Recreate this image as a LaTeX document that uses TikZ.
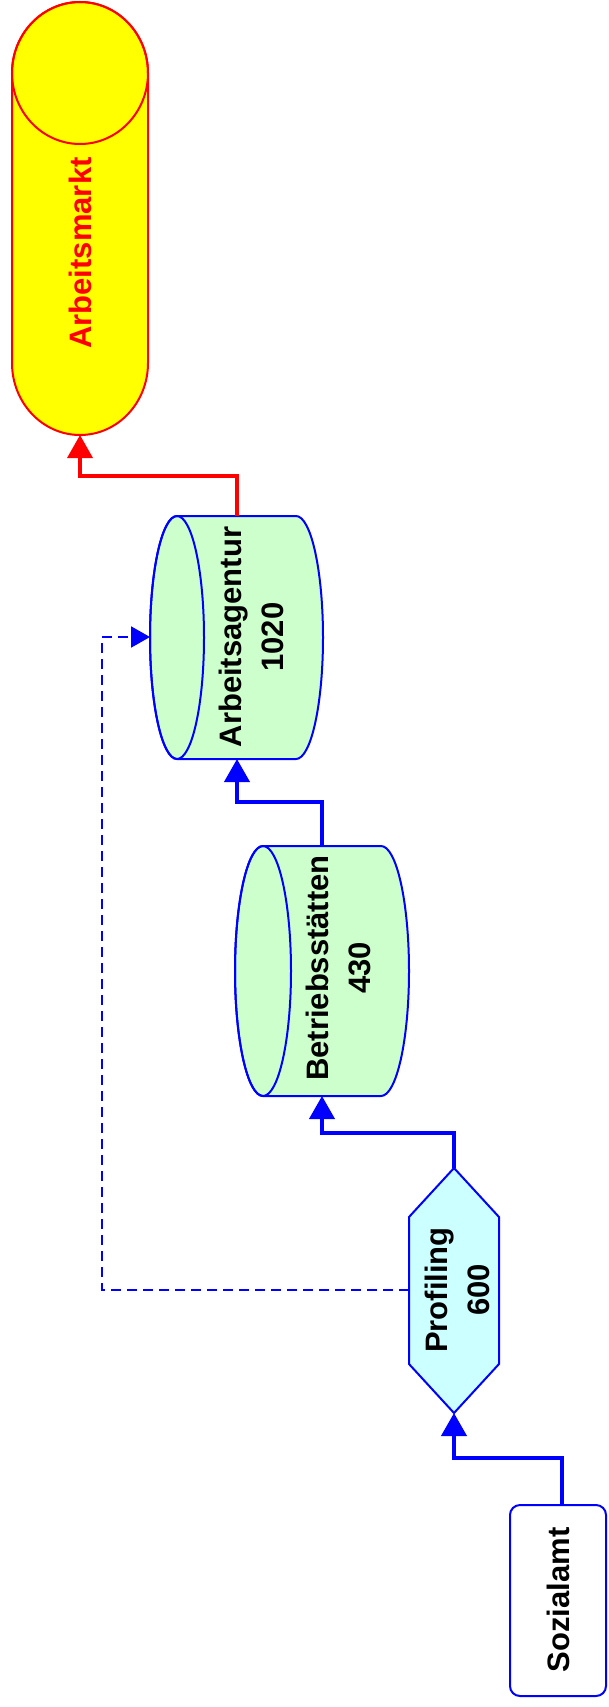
\documentclass[tikz,border=0pt]{standalone}
\usepackage{fontspec}
\setmainfont{Liberation Sans}
\usetikzlibrary{arrows.meta}
\definecolor{cgreen}{HTML}{CCFFCC}
\definecolor{ccyan}{HTML}{CCFFFF}
\definecolor{cblue}{HTML}{0000FF}
\definecolor{cred}{HTML}{FF0000}
\definecolor{cyell}{HTML}{FFFF00}
\tikzset{
  shapeline/.style={draw=cblue, line width=2pt},
  lbl/.style={rotate=90, font=\fontsize{31}{42}\selectfont\bfseries, align=center, inner sep=0pt},
  flow/.style={draw=cblue, line width=4pt, -{Triangle[length=23pt,width=25pt]}},
  redflow/.style={draw=cred, line width=3.5pt, -{Triangle[length=23pt,width=25pt]}},
  dashflow/.style={draw=cblue, line width=2pt, dash pattern=on 10pt off 6pt, -{Triangle[length=19pt,width=21pt]}}
}
\begin{document}
\begin{tikzpicture}[x=1pt,y=1pt]
\useasboundingbox (0,0) rectangle (608,-1707);
\fill[white] (0,0) rectangle (608,-1707);

% Arbeitsmarkt (vertical cylinder)
\filldraw[fill=cyell, draw=cred, line width=2pt]
  (12,-73) -- (12,-363) arc[start angle=180, end angle=360, x radius=68, y radius=72]
  -- (148,-73) arc[start angle=0, end angle=180, x radius=68, y radius=71] -- cycle;
\draw[draw=cred, line width=2pt] (80,-73) ellipse[x radius=68, y radius=71];
\node[lbl, text=cred] (amtext) at (80,-253) {Arbeitsmarkt};
\coordinate (am-bot) at (80,-435);

% Arbeitsagentur (lying cylinder)
\filldraw[fill=cgreen, shapeline]
  (177,-516) -- (296,-516) arc[start angle=90, end angle=-90, x radius=27, y radius=121.5]
  -- (177,-759) arc[start angle=270, end angle=90, x radius=27, y radius=121.5] -- cycle;
\draw[shapeline] (177,-637.5) ellipse[x radius=27, y radius=121.5];
\node[lbl] (aatext) at (251,-637) {Arbeitsagentur\\1020};
\coordinate (aa-top) at (237,-516);
\coordinate (aa-bot) at (237,-759);
\coordinate (aa-left) at (150,-637);

% Betriebsstaetten (lying cylinder)
\filldraw[fill=cgreen, shapeline]
  (263,-846) -- (381,-846) arc[start angle=90, end angle=-90, x radius=28, y radius=125]
  -- (263,-1096) arc[start angle=270, end angle=90, x radius=28, y radius=125] -- cycle;
\draw[shapeline] (263,-971) ellipse[x radius=28, y radius=125];
\node[lbl] (bstext) at (338,-968) {Betriebsstätten\\430};
\coordinate (bs-top) at (322,-846);
\coordinate (bs-bot) at (322,-1096);

% Profiling (hexagon)
\filldraw[fill=ccyan, shapeline]
  (454,-1168) -- (499,-1217) -- (499,-1364) -- (454,-1413) -- (409,-1364) -- (409,-1217) -- cycle;
\node[lbl] (prtext) at (457,-1290) {Profiling\\600};
\coordinate (pr-top) at (454,-1168);
\coordinate (pr-bot) at (454,-1413);
\coordinate (pr-left) at (409,-1290);

% Sozialamt (rounded box)
\filldraw[fill=white, shapeline, rounded corners=10pt] (510,-1505) rectangle (606,-1696);
\node[lbl] (sotext) at (558,-1600) {Sozialamt};
\coordinate (so-top) at (562,-1505);

% connectors
\draw[flow] (so-top) -- ++(0,47) -| (pr-bot);
\draw[flow] (pr-top) -- ++(0,35) -| (bs-bot);
\draw[flow] (bs-top) -- ++(0,44) -| (aa-bot);
\draw[redflow] (aa-top) -- ++(0,40) -| (am-bot);
\draw[dashflow] (pr-left) -- ++(-307,0) |- (aa-left);
\end{tikzpicture}
\end{document}
